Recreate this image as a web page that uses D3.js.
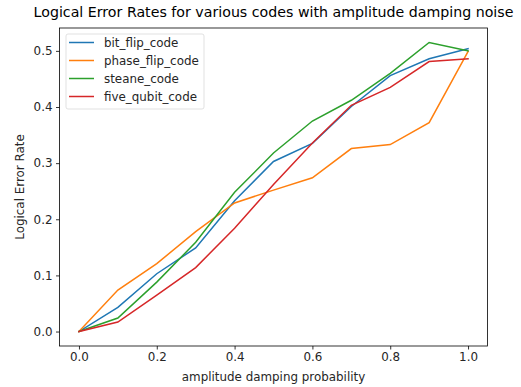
<!DOCTYPE html>
<html>
<head>
<meta charset="utf-8">
<script src="https://cdn.jsdelivr.net/npm/d3@7"></script>
<style>
  body { margin: 0; background: #fff; }
  svg { font-family: "DejaVu Sans", sans-serif; }
</style>
</head>
<body>
<svg></svg>
<script>
const probs = [0, 0.1, 0.2, 0.3, 0.4, 0.5, 0.6, 0.7, 0.8, 0.9, 1.0];
const bitFlip = [0, 0.043, 0.103, 0.149, 0.233, 0.303, 0.335, 0.401, 0.456, 0.486, 0.504];
const phaseFlip = [0, 0.074, 0.121, 0.178, 0.229, 0.252, 0.274, 0.326, 0.333, 0.372, 0.499];
const steane = [0, 0.024, 0.088, 0.159, 0.248, 0.318, 0.375, 0.412, 0.46, 0.515, 0.5];
const fiveQubit = [0, 0.017, 0.065, 0.114, 0.184, 0.262, 0.336, 0.403, 0.435, 0.481, 0.486];
const seriesNames = ['bit_flip_code', 'phase_flip_code', 'steane_code', 'five_qubit_code'];
const colors = ['#1f77b4', '#ff7f0e', '#2ca02c', '#d62728'];
const xTicks = [0, 0.2, 0.4, 0.6, 0.8, 1.0];
const yTicks = [0, 0.1, 0.2, 0.3, 0.4, 0.5];

const width = 521;
const height = 387;
const plotLeft = 59.5, plotRight = 487.5, plotTop = 28, plotBottom = 346;
const fontSize = '11.9px';

const svg = d3.select('svg').attr('width', width).attr('height', height);

const allSeries = [bitFlip, phaseFlip, steane, fiveQubit];
const yMax = d3.max(allSeries, (s) => d3.max(s));
const xPad = 0.05 * 1.0;
const yPad = 0.05 * yMax;

const xScale = d3.scaleLinear().domain([-xPad, 1 + xPad]).range([plotLeft, plotRight]);
const yScale = d3.scaleLinear().domain([-yPad, yMax + yPad]).range([plotBottom, plotTop]);

// axes
const xAxis = d3.axisBottom(xScale).tickValues(xTicks).tickFormat(d3.format('.1f')).tickSize(3.5).tickPadding(3.5);
const yAxis = d3.axisLeft(yScale).tickValues(yTicks).tickFormat(d3.format('.1f')).tickSize(3.5).tickPadding(3.5);

const gx = svg.append('g').attr('transform', 'translate(0,' + plotBottom + ')').call(xAxis);
const gy = svg.append('g').attr('transform', 'translate(' + plotLeft + ',0)').call(yAxis);
[gx, gy].forEach((g) => {
  g.select('.domain').remove();
  g.selectAll('line').attr('stroke', '#000').attr('stroke-width', 0.8);
  g.selectAll('text').attr('fill', '#262626').style('font-size', fontSize).style('font-family', 'DejaVu Sans');
});

// lines
const line = d3.line()
  .x((d, i) => xScale(probs[i]))
  .y((d) => yScale(d));

allSeries.forEach((s, i) => {
  svg.append('path')
    .datum(s)
    .attr('d', line)
    .attr('fill', 'none')
    .attr('stroke', colors[i])
    .attr('stroke-width', 1.5)
    .attr('stroke-linecap', 'square');
});

// frame
svg.append('rect')
  .attr('x', plotLeft).attr('y', plotTop)
  .attr('width', plotRight - plotLeft).attr('height', plotBottom - plotTop)
  .attr('fill', 'none').attr('stroke', '#000').attr('stroke-width', 0.8);

// title and labels
svg.append('text')
  .attr('x', (plotLeft + plotRight) / 2).attr('y', 17)
  .attr('text-anchor', 'middle')
  .style('font-size', '14.2px')
  .attr('fill', '#000')
  .text('Logical Error Rates for various codes with amplitude damping noise');

svg.append('text')
  .attr('x', (plotLeft + plotRight) / 2).attr('y', 381)
  .attr('text-anchor', 'middle')
  .style('font-size', fontSize)
  .attr('fill', '#262626')
  .text('amplitude damping probability');

svg.append('text')
  .attr('transform', 'translate(24,' + (plotTop + plotBottom) / 2 + ') rotate(-90)')
  .attr('text-anchor', 'middle')
  .style('font-size', fontSize)
  .attr('fill', '#262626')
  .text('Logical Error Rate');

// legend
const legend = svg.append('g');
legend.append('rect')
  .attr('x', 66).attr('y', 34).attr('width', 138).attr('height', 75)
  .attr('rx', 2).attr('fill', '#fff').attr('fill-opacity', 0.8)
  .attr('stroke', '#d9d9d9').attr('stroke-width', 0.8);

seriesNames.forEach((name, i) => {
  const y = 42.5 + i * 18;
  legend.append('line')
    .attr('x1', 69).attr('x2', 94).attr('y1', y).attr('y2', y)
    .attr('stroke', colors[i]).attr('stroke-width', 1.5);
  legend.append('text')
    .attr('x', 104).attr('y', y + 4)
    .style('font-size', fontSize)
    .attr('fill', '#262626')
    .text(name);
});
</script>
</body>
</html>
